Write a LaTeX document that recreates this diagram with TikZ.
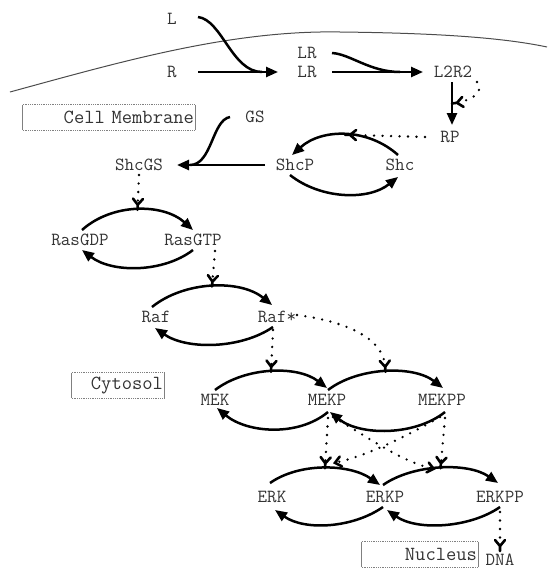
\documentclass[tikz,border=0pt]{standalone}
\usepackage{fontspec}
\usetikzlibrary{arrows.meta,calc}

% catalysis tip: an open barb followed by a short solid stem
\pgfdeclarearrow{
  name = Fork,
  setup code = {
    \pgfarrowssettipend{0pt}
    \pgfarrowssetlineend{-5pt}
    \pgfarrowssetbackend{-11pt}
    \pgfarrowshullpoint{0pt}{0pt}
    \pgfarrowshullpoint{-11pt}{5pt}
    \pgfarrowshullpoint{-11pt}{-5pt}
  },
  drawing code = {
    \pgfsetdash{}{0pt}
    \pgfsetroundcap
    \pgfsetroundjoin
    \pgfpathmoveto{\pgfqpoint{-11pt}{5pt}}
    \pgfpathlineto{\pgfqpoint{-5pt}{0pt}}
    \pgfpathlineto{\pgfqpoint{-11pt}{-5pt}}
    \pgfpathmoveto{\pgfqpoint{-5pt}{0pt}}
    \pgfpathlineto{\pgfqpoint{0pt}{0pt}}
    \pgfusepathqstroke
  }
}

\tikzset{
  lbl/.style={font=\ttfamily\fontsize{18.5}{18.5}\selectfont, inner sep=0pt, text=black!80},
  region/.style={font=\ttfamily\fontsize{20}{20}\selectfont, inner xsep=1pt, inner ysep=0pt,
                 align=right, minimum height=25pt, text=black!80},
  conv/.style={line width=2.5pt, -{Triangle[length=12pt,width=10pt]}},
  merge/.style={line width=2.5pt},
  cat/.style={line width=2.6pt, line cap=round, dash pattern=on 0pt off 8.5pt, -{Fork}},
  catb/.style={line width=2.6pt, line cap=round, dash pattern=on 0pt off 8.5pt,
               -{Straight Barb[length=6pt,width=10pt,line cap=round]}},
  membrane/.style={line width=1pt, black!70},
  boxside/.style={line width=1pt, gray},
  boxedge/.style={line width=0.8pt, gray, densely dotted},
}

\begin{document}
\begin{tikzpicture}[x=1pt, y=-1pt]
\useasboundingbox (0,0) rectangle (547,570);

% cell membrane
\draw[membrane] (10,92) .. controls (120,62) and (230,30) .. (340,32)
                        .. controls (430,33) and (500,37) .. (547,47);

% species
\node[lbl] (L)      at (172,19)  {L};
\node[lbl] (R)      at (172,72)  {R};
\node[lbl] (LRa)    at (307,53)  {LR};
\node[lbl] (LRb)    at (307,72)  {LR};
\node[lbl] (L2R2)   at (453,72)  {L2R2};
\node[lbl] (RP)     at (450,137) {RP};
\node[lbl] (GS)     at (255,117) {GS};
\node[lbl] (ShcGS)  at (139,165) {ShcGS};
\node[lbl] (ShcP)   at (295,165) {ShcP};
\node[lbl] (Shc)    at (400,165) {Shc};
\node[lbl] (RasGDP) at (80,240)  {RasGDP};
\node[lbl] (RasGTP) at (193,240) {RasGTP};
\node[lbl] (Raf)    at (156,317) {Raf};
\node[lbl] (RafA)   at (277,317) {Raf*};
\node[lbl] (MEK)    at (215,400) {MEK};
\node[lbl] (MEKP)   at (327,400) {MEKP};
\node[lbl] (MEKPP)  at (442,400) {MEKPP};
\node[lbl] (ERK)    at (272,497) {ERK};
\node[lbl] (ERKP)   at (385,497) {ERKP};
\node[lbl] (ERKPP)  at (500,497) {ERKPP};
\node[lbl] (DNA)    at (500,560) {DNA};

% compartment labels
\node[region, text width=170pt] (cm)  at (109,117.5) {Cell Membrane};
\node[region, text width=90pt]  (cyt) at (118,385.5) {Cytosol};
\node[region, text width=114pt] (nuc) at (420,554.5) {Nucleus};
\foreach \b in {cm,cyt,nuc}{
  \draw[boxside] (\b.north west) -- (\b.south west) (\b.north east) -- (\b.south east);
  \draw[boxedge] (\b.north west) -- (\b.north east) (\b.south west) -- (\b.south east);
}

% receptor binding and dimerisation
\draw[conv]  ($(R)+(26,0)$) -- ($(LRb)+(-29,0)$);
\draw[merge] ($(L)+(26,-2)$) .. controls +(24,3) and +(-30,0) .. ($(LRb)+(-45,0)$);
\draw[conv]  ($(LRb)+(25,0)$) -- ($(L2R2)+(-30,0)$);
\draw[merge] ($(LRa)+(25,0)$) .. controls +(18,1) and +(-30,0) .. ($(L2R2)+(-53,0)$);
\draw[conv]  ($(L2R2)+(-1,10)$) -- ($(RP)+(2,-12)$) coordinate[pos=0.5] (rpmid);
\draw[cat]   ($(L2R2)+(24,10)$) .. controls +(9,12) and +(14,-2) .. (rpmid);

% Shc cycle
\draw[conv] ($(Shc)+(-2,-10)$) .. controls +(-30,-27) and +(30,-27) .. ($(ShcP)+(-3,-10)$)
            coordinate[pos=0.5] (shcTop);
\draw[conv] ($(ShcP)+(-5,10)$) .. controls +(30,24) and +(-30,24) .. ($(Shc)+(-2,12)$);
\draw[cat]  ($(RP)+(-25,0)$) -- (shcTop);
\draw[conv] ($(ShcP)+(-30,0)$) -- ($(ShcGS)+(38,0)$);
\draw[merge] ($(GS)+(-25,0)$) .. controls +(-18,3) and +(22,0) .. ($(ShcGS)+(51,0)$);

% Ras cycle
\draw[conv] ($(RasGDP)+(2,-10)$) .. controls +(30,-27) and +(-30,-27) .. ($(RasGTP)+(0,-10)$)
            coordinate[pos=0.5] (rasTop);
\draw[conv] ($(RasGTP)+(0,10)$) .. controls +(-30,23) and +(30,23) .. ($(RasGDP)+(2,10)$);
\draw[cat]  ($(ShcGS)+(0,10)$) -- (rasTop);

% Raf cycle
\draw[conv] ($(Raf)+(-4,-10)$) .. controls +(32,-26) and +(-32,-26) .. ($(RafA)+(-5,-12)$)
            coordinate[pos=0.5] (rafTop);
\draw[conv] ($(RafA)+(-4,10)$) .. controls +(-32,22) and +(32,22) .. ($(Raf)+(-1,11)$);
\draw[cat]  ($(RasGTP)+(22,11)$) -- (rafTop);

% MEK cycle
\draw[conv] ($(MEK)+(0,-10)$) .. controls +(30,-23) and +(-30,-23) .. ($(MEKP)+(0,-12)$)
            coordinate[pos=0.5] (mekTop);
\draw[conv] ($(MEKP)+(1,-10)$) .. controls +(30,-23) and +(-30,-23) .. ($(MEKPP)+(1,-12)$)
            coordinate[pos=0.5] (mekpTop);
\draw[conv] ($(MEKP)+(1,12)$) .. controls +(-30,25) and +(30,25) .. ($(MEK)+(2,8)$);
\draw[conv] ($(MEKPP)+(3,12)$) .. controls +(-30,24) and +(30,24) .. ($(MEKP)+(3,12)$);
\draw[cat]  ($(RafA)+(-4,13)$) -- (mekTop);
\draw[cat]  ($(RafA)+(20,-2)$) .. controls +(53,7) and +(-2,-32) .. (mekpTop);

% ERK cycle
\draw[conv] ($(ERK)+(-2,-14)$) .. controls +(30,-21) and +(-30,-21) .. ($(ERKP)+(-5,-12)$)
            coordinate[pos=0.5] (erkTop);
\draw[conv] ($(ERKP)+(-2,-12)$) .. controls +(30,-21) and +(-30,-21) .. ($(ERKPP)+(-2,-14)$)
            coordinate[pos=0.5] (erkpTop);
\draw[conv] ($(ERKP)+(-2,10)$) .. controls +(-30,21) and +(30,21) .. ($(ERK)+(3,13)$);
\draw[conv] ($(ERKPP)+(0,10)$) .. controls +(-30,21) and +(30,21) .. ($(ERKP)+(2,13)$);
\draw[cat]  ($(MEKP)+(1,18)$) -- (erkTop);
\draw[cat]  ($(MEKPP)+(3,18)$) -- (erkpTop);
\draw[catb] ($(MEKP)+(6,17)$) .. controls +(35,20) and +(-35,-8) .. ($(erkpTop)+(-5,1)$);
\draw[catb] ($(MEKPP)+(-2,17)$) .. controls +(-35,20) and +(35,-8) .. ($(erkTop)+(8,-5)$);

% transcription
\draw[cat]  ($(ERKPP)+(0,15)$) -- ($(DNA.north)+(0,-3)$);
\end{tikzpicture}
\end{document}
